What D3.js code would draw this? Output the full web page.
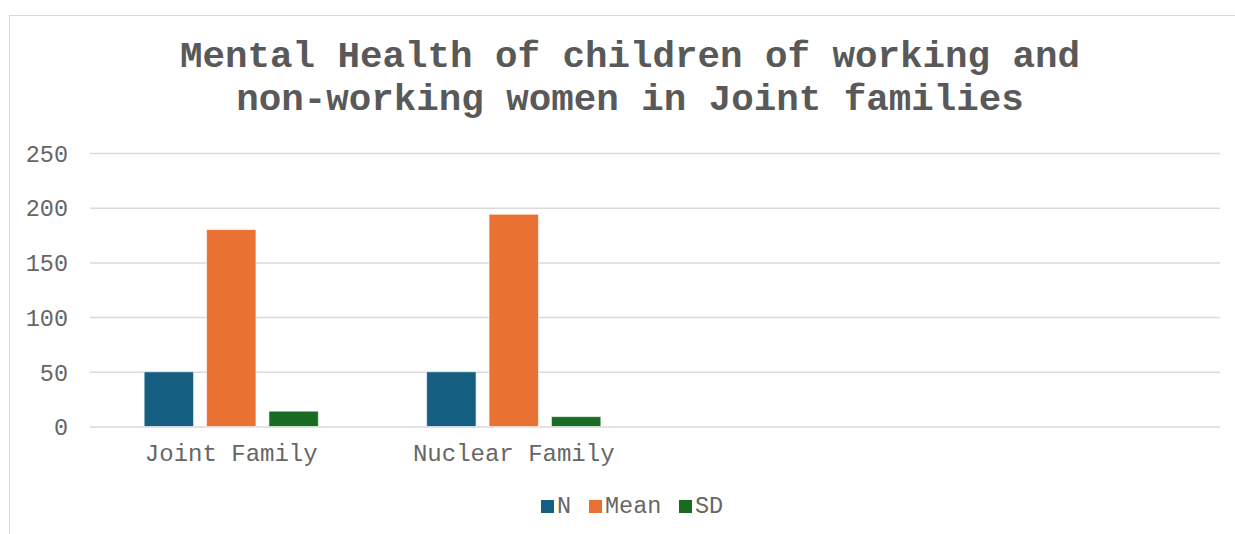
<!DOCTYPE html>
<html><head><meta charset="utf-8">
<script src="https://cdn.jsdelivr.net/npm/d3@7"></script>
<style>body{margin:0;background:#fff;}svg{display:block;}</style>
</head><body>
<svg id="c" width="1235" height="534"></svg>
<script>
const categories = ["Joint Family", "Nuclear Family", "", " "];
const seriesNames = ["N", "Mean", "SD"];
const nValues = [50, 50, null, null];
const meanValues = [180, 194, null, null];
const sdValues = [14, 9, null, null];
const yTicks = [0, 50, 100, 150, 200, 250];
const titleLines = ["Mental Health of children of working and", "non-working women in Joint families"];
const colors = ["#156082", "#E97132", "#196B24"];

(function () {
const series = [nValues, meanValues, sdValues];
const svg = d3.select("#c");
const font = "'Liberation Mono','Courier New',monospace";
const textColor = "#595959";
const labelColor = "#666666";

svg.append("rect").attr("x", 9.5).attr("y", 15.5).attr("width", 1240).attr("height", 540)
  .attr("fill", "#fff").attr("stroke", "#d9d9d9").attr("stroke-width", 1);

const pl = 90, pr = 1220, pt = 153, pb = 426.5;
const x = d3.scaleBand().domain(categories).range([pl, pr]).paddingInner(0).paddingOuter(0);
const y = d3.scaleLinear().domain([0, 250]).range([pb, pt]);
const inner = d3.scaleBand().domain(seriesNames).range([0, x.bandwidth()]).paddingInner(0.208).paddingOuter(0.868);

const yAxis = d3.axisLeft(y).tickValues(yTicks).tickSize(-(pr - pl)).tickFormat(d3.format("d")).tickPadding(22);
const gy = svg.append("g").attr("transform", `translate(${pl},0)`).call(yAxis);
gy.select(".domain").remove();
gy.selectAll(".tick line").attr("stroke", "#d9d9d9").attr("stroke-width", 1.5);
gy.selectAll(".tick text").attr("font-family", font).attr("font-size", 23.5).attr("fill", labelColor).attr("dy", "0.35em");

const groups = svg.append("g").selectAll("g").data(series).join("g").attr("fill", (d, i) => colors[i]);
groups.selectAll("rect")
  .data((d, i) => categories.map((c, j) => ({c, v: d[j], s: seriesNames[i]})).filter(e => e.v != null))
  .join("rect")
  .attr("x", d => x(d.c) + inner(d.s))
  .attr("width", inner.bandwidth())
  .attr("y", d => y(d.v))
  .attr("height", d => y(0) - y(d.v))
  .attr("stroke", "#ffffff").attr("stroke-opacity", 0.6).attr("stroke-width", 1);

const xAxis = d3.axisBottom(x).tickSize(0).tickPadding(0);
const gx = svg.append("g").attr("transform", `translate(0,${pb})`).call(xAxis);
gx.select(".domain").remove();
gx.selectAll(".tick text").attr("font-family", font).attr("font-size", 24).attr("fill", labelColor)
  .attr("dy", 0).attr("y", 34);

svg.append("g").selectAll("text").data(titleLines).join("text")
  .attr("x", 630).attr("y", (d, i) => 67 + i * 43)
  .attr("text-anchor", "middle").attr("font-family", font).attr("font-weight", "bold")
  .attr("font-size", 37.5).attr("fill", textColor).text(d => d);

const legendX = [541, 589, 679];
const lg = svg.append("g").selectAll("g").data(seriesNames).join("g")
  .attr("transform", (d, i) => `translate(${legendX[i]},500)`);
lg.append("rect").attr("width", 13).attr("height", 13).attr("fill", (d, i) => colors[i]);
lg.append("text").attr("x", 16).attr("y", 12.5).attr("font-family", font).attr("font-size", 23.5)
  .attr("fill", labelColor).text(d => d);
})();
</script>
</body></html>
